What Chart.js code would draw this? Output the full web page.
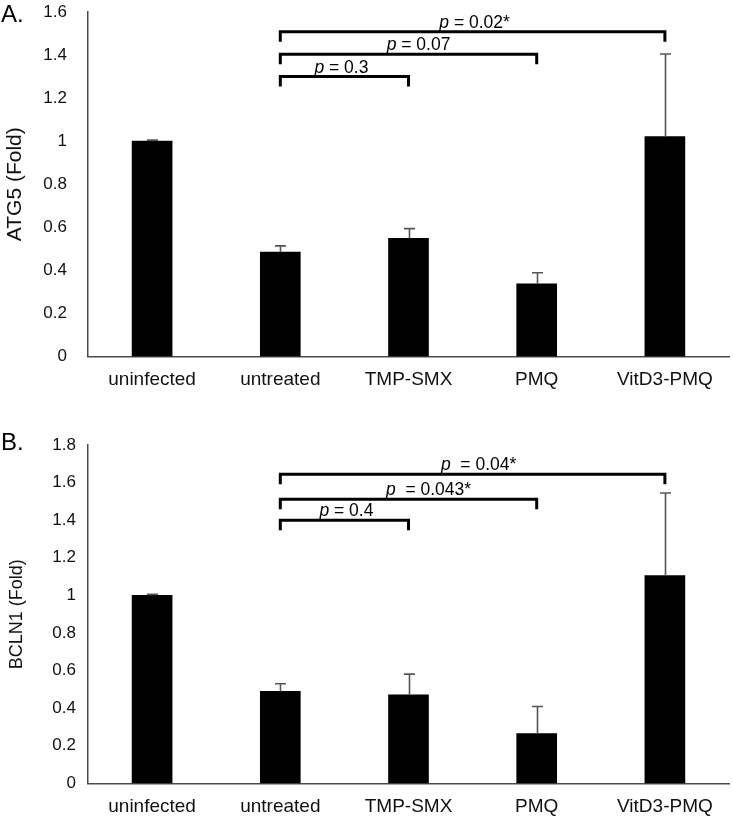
<!DOCTYPE html>
<html><head><meta charset="utf-8">
<script src="https://cdn.jsdelivr.net/npm/chart.js@4.4.0/dist/chart.umd.min.js"></script>
<style>
html,body{margin:0;padding:0;background:#fff;}
#wrap{position:relative;width:733px;height:816px;overflow:hidden;font-family:"Liberation Sans",Arial,sans-serif;}
.panel{position:absolute;left:0;width:733px;}
#pA{top:0;height:400px;}
#pB{top:400px;height:416px;}
.lab{position:absolute;left:1px;font-size:24px;color:#000;line-height:1;}
</style></head>
<body><div id="wrap">
<div class="panel" id="pA"><canvas id="cA" width="733" height="400"></canvas></div>
<div class="panel" id="pB"><canvas id="cB" width="733" height="416"></canvas></div>
<div class="lab" style="top:2px">A.</div>
<div class="lab" style="top:430px">B.</div>
</div>
<script>
// ---- data ----
const categories = ['uninfected', 'untreated', 'TMP-SMX', 'PMQ', 'VitD3-PMQ'];

const atg5Values = [1.0, 0.485, 0.549, 0.338, 1.021];
const atg5Errors = [0.005, 0.029, 0.045, 0.051, 0.384];
const atg5Ticks = [0, 0.2, 0.4, 0.6, 0.8, 1, 1.2, 1.4, 1.6];
const atg5BracketFrom = [1, 1, 1];
const atg5BracketTo = [4, 3, 2];
const atg5BracketLevel = [1.508, 1.404, 1.300];
const atg5BracketLabels = ['p = 0.02*', 'p = 0.07', 'p = 0.3'];

const bcln1Values = [1.0, 0.489, 0.471, 0.264, 1.105];
const bcln1Errors = [0.005, 0.041, 0.11, 0.145, 0.44];
const bcln1Ticks = [0, 0.2, 0.4, 0.6, 0.8, 1, 1.2, 1.4, 1.6, 1.8];
const bcln1BracketFrom = [1, 1, 1];
const bcln1BracketTo = [4, 3, 2];
const bcln1BracketLevel = [1.644, 1.512, 1.400];
const bcln1BracketLabels = ['p  = 0.04*', 'p  = 0.043*', 'p = 0.4'];

const FAM = '"Liberation Sans", Arial, sans-serif';

const annotPlugin = {
  id: 'annot',
  afterDatasetsDraw(chart, args, o) {
    const ctx = chart.ctx, xs = chart.scales.x, ys = chart.scales.y;
    ctx.save();
    // error bars (upper only)
    ctx.strokeStyle = '#555';
    ctx.lineWidth = 1.6;
    ctx.lineCap = 'butt';
    o.values.forEach((v, i) => {
      const cx = Math.round(xs.getPixelForValue(i)) + 0.5;
      const y0 = ys.getPixelForValue(v);
      const y1 = ys.getPixelForValue(v + o.errors[i]);
      ctx.beginPath();
      ctx.moveTo(cx, y0); ctx.lineTo(cx, y1);
      ctx.moveTo(cx - 5.5, y1); ctx.lineTo(cx + 5.5, y1);
      ctx.stroke();
    });
    // significance brackets
    ctx.strokeStyle = '#000';
    ctx.lineWidth = 3;
    ctx.lineJoin = 'miter';
    o.from.forEach((f, k) => {
      const xa = xs.getPixelForValue(f), xb = xs.getPixelForValue(o.to[k]);
      const yl = ys.getPixelForValue(o.level[k]);
      ctx.beginPath();
      ctx.moveTo(xa, yl + o.drop); ctx.lineTo(xa, yl); ctx.lineTo(xb, yl); ctx.lineTo(xb, yl + o.drop);
      ctx.stroke();
      const txt = o.labels[k];
      const p = txt[0], rest = txt.slice(1);
      ctx.font = 'italic ' + o.fontSize + 'px ' + FAM;
      const wp = ctx.measureText(p).width;
      ctx.font = o.fontSize + 'px ' + FAM;
      const wr = ctx.measureText(rest).width;
      const cx = (xa + xb) / 2 + (o.shift[k] || 0);
      const sx = cx - (wp + wr) / 2;
      ctx.fillStyle = '#000';
      ctx.textAlign = 'left';
      ctx.textBaseline = 'alphabetic';
      ctx.font = 'italic ' + o.fontSize + 'px ' + FAM;
      ctx.fillText(p, sx, yl - 4);
      ctx.font = o.fontSize + 'px ' + FAM;
      ctx.fillText(rest, sx + wp, yl - 4);
    });
    ctx.restore();
  }
};

function makeChart(id, values, errors, ticksArr, yTitle, cfg, br) {
  return new Chart(document.getElementById(id), {
    type: 'bar',
    data: {
      labels: categories,
      datasets: [{ data: values, backgroundColor: '#000', borderWidth: 0, barThickness: 40 }]
    },
    plugins: [annotPlugin],
    options: {
      responsive: false,
      animation: false,
      devicePixelRatio: 1,
      layout: { padding: { top: cfg.top, right: 4, left: 0, bottom: 0 } },
      plugins: {
        legend: { display: false },
        tooltip: { enabled: false },
        annot: {
          values: values, errors: errors,
          from: br.from, to: br.to, level: br.level, labels: br.labels,
          drop: cfg.drop, fontSize: 17.5, shift: cfg.shift
        }
      },
      scales: {
        x: {
          grid: { display: false, drawTicks: false },
          border: { display: true, color: '#4a4a4a', width: 1.5 },
          ticks: { color: '#111', font: { size: 19, family: FAM }, padding: cfg.xPad, maxRotation: 0, autoSkip: false },
          afterFit(s) { s.height = cfg.xHeight; }
        },
        y: {
          min: 0,
          max: ticksArr[ticksArr.length - 1],
          afterBuildTicks(s) { s.ticks = ticksArr.map(v => ({ value: v })); },
          grid: { display: false, drawTicks: false },
          border: { display: true, color: '#4a4a4a', width: 1.5 },
          ticks: {
            color: '#111', font: { size: 17, family: FAM }, padding: cfg.yPad,
            callback: v => String(Math.round(v * 10) / 10)
          },
          title: {
            display: true, text: yTitle, color: '#111',
            font: { size: cfg.titleSize, family: FAM }, padding: { top: cfg.titlePad, bottom: 0 }
          },
          afterFit(s) { s.width = 88; s.paddingTop = 0; s.paddingBottom = 0; }
        }
      }
    }
  });
}

makeChart('cA', atg5Values, atg5Errors, atg5Ticks, 'ATG5 (Fold)',
  { top: 12, xHeight: 43.5, xPad: 12, yPad: 21, titleSize: 21, titlePad: 3, drop: 10, shift: [2, 10, -3] },
  { from: atg5BracketFrom, to: atg5BracketTo, level: atg5BracketLevel, labels: atg5BracketLabels });

makeChart('cB', bcln1Values, bcln1Errors, bcln1Ticks, 'BCLN1 (Fold)',
  { top: 45, xHeight: 32.7, xPad: 12, yPad: 12, titleSize: 18, titlePad: 6, drop: 10, shift: [6, 20, 2] },
  { from: bcln1BracketFrom, to: bcln1BracketTo, level: bcln1BracketLevel, labels: bcln1BracketLabels });
</script>
</body></html>
